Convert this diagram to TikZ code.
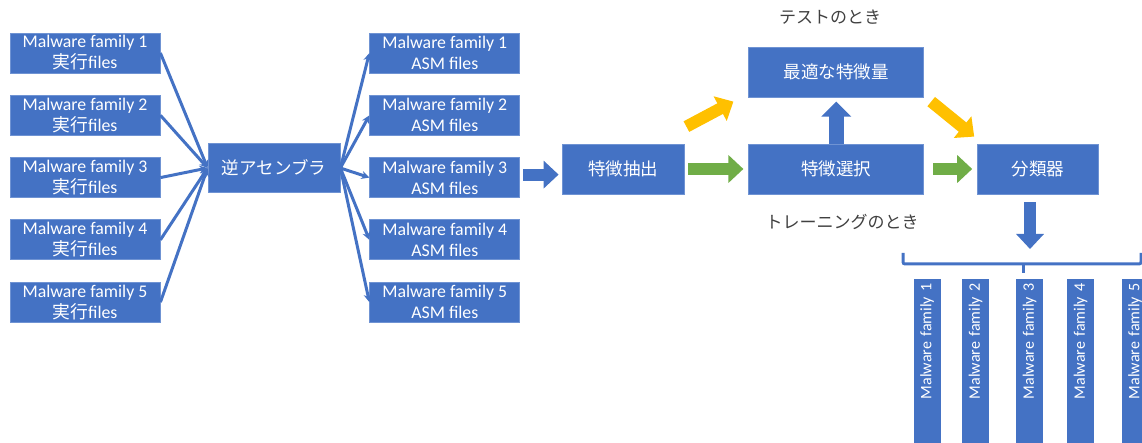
\documentclass[tikz,border=0pt]{standalone}
\usepackage{fontspec}
\setmainfont{Carlito}
\newfontfamily\jp{Noto Sans CJK JP}
\usetikzlibrary{arrows.meta,positioning,calc}

\definecolor{boxblue}{HTML}{4472C4}
\definecolor{edgeblue}{HTML}{6F93D3}
\definecolor{trainarrow}{HTML}{70AD47}
\definecolor{testarrow}{HTML}{FFC000}
\definecolor{labelgray}{HTML}{404040}

\begin{document}
\begin{tikzpicture}[
  x=1pt,y=-1pt,
  font=\fontsize{17.8}{21}\selectfont,
  box/.style={draw=edgeblue,line width=0.8pt,fill=boxblue,text=white,inner sep=0pt,align=center},
  family/.style={box,minimum width=150pt,minimum height=40pt},
  stage/.style={box,minimum height=50pt,font=\jp\fontsize{17.5}{21}\selectfont},
  famv/.style={box,draw=none,rotate=90,anchor=east,minimum height=27pt,text width=175pt,
    inner xsep=4pt,align=right,font=\fontsize{16}{18}\selectfont},
  note/.style={text=labelgray,font=\jp\fontsize{17}{21}\selectfont},
  conn/.style={draw=boxblue,line width=3pt,-{Stealth[length=8pt,width=8pt]}},
  fat/.style={line width=12pt,-{Triangle[length=15pt,width=27pt]}},
]
\path[use as bounding box,clip] (0,0) rectangle (1142,443);

% input samples and disassembled output
\node[family] (m1) at (85,53) {Malware family 1\\{\jp 実行}files};
\node[family,below=21.5pt of m1] (m2) {Malware family 2\\{\jp 実行}files};
\node[family,below=21.5pt of m2] (m3) {Malware family 3\\{\jp 実行}files};
\node[family,below=21.5pt of m3] (m4) {Malware family 4\\{\jp 実行}files};
\node[family,below=21.5pt of m4] (m5) {Malware family 5\\{\jp 実行}files};

\node[stage,minimum width=132pt,minimum height=49pt] (dis) at (274,168) {逆アセンブラ};

\node[family,right=209pt of m1] (a1) {Malware family 1\\ASM files};
\node[family,right=209pt of m2] (a2) {Malware family 2\\ASM files};
\node[family,right=209pt of m3] (a3) {Malware family 3\\ASM files};
\node[family,right=209pt of m4] (a4) {Malware family 4\\ASM files};
\node[family,right=209pt of m5] (a5) {Malware family 5\\ASM files};

% feature pipeline
\node[stage,minimum width=122pt] (fe) at (623,169) {特徴抽出};
\node[stage,minimum width=175pt,right=64pt of fe] (sel) {特徴選択};
\node[stage,minimum width=175pt,above=46pt of sel] (opt) {最適な特徴量};
\node[stage,minimum width=121pt,right=53pt of sel] (cls) {分類器};

\node[note] (test) at (830,17) {テストのとき};
\node[note] (train) at (842,222) {トレーニングのとき};

% predicted classes
\node[famv] (c1) at (927,279) {Malware family 1};
\node[famv] (c2) at (975.5,279) {Malware family 2};
\node[famv] (c3) at (1029.5,279) {Malware family 3};
\node[famv] (c4) at (1080.5,279) {Malware family 4};
\node[famv] (c5) at (1135,279) {Malware family 5};

\draw[conn] (m1.east) -- (dis.west);
\draw[conn] (m2.east) -- (dis.west);
\draw[conn] (m3.east) -- (dis.west);
\draw[conn] (m4.east) -- (dis.west);
\draw[conn] (m5.east) -- (dis.west);

\draw[conn] (dis.east) -- (a1.west);
\draw[conn] (dis.east) -- (a2.west);
\draw[conn] (dis.east) -- (a3.west);
\draw[conn] (dis.east) -- (a4.west);
\draw[conn] (dis.east) -- (a5.west);

\draw[fat,boxblue,shorten <=3pt,shorten >=3pt] ($(a3.east)+(0,-3)$) -- ($(a3.east -| fe.west)+(0,-3)$);
\draw[fat,trainarrow,shorten <=4pt,shorten >=5pt] (fe.east) -- (sel.west);
\draw[fat,trainarrow,shorten <=9pt,shorten >=5pt] (sel.east) -- (cls.west);
\draw[fat,boxblue,line width=15pt,-{Triangle[length=15pt,width=29pt]},shorten >=4pt] (sel.north) -- (opt.south);
\draw[fat,testarrow] ($(fe.north east)+(2,-17)$) -- ($(opt.south west)+(-15,4)$);
\draw[fat,testarrow] ($(opt.south east)+(7,4)$) -- ($(cls.north west)+(-3,-7)$);

% output bracket
\coordinate (bl) at (903,253);
\coordinate (br) at (1141,253);
\coordinate (tick) at (1023,264);
\coordinate (out) at (1030,249);
\draw[fat,boxblue,shorten <=8pt] (cls.south -| out) -- (out);
\draw[boxblue,line width=3pt,rounded corners=2pt] (bl) -- (bl |- tick) -- (br |- tick) -- (br);
\draw[boxblue,line width=3pt] (tick) -- ++(0,9);

\end{tikzpicture}
\end{document}
